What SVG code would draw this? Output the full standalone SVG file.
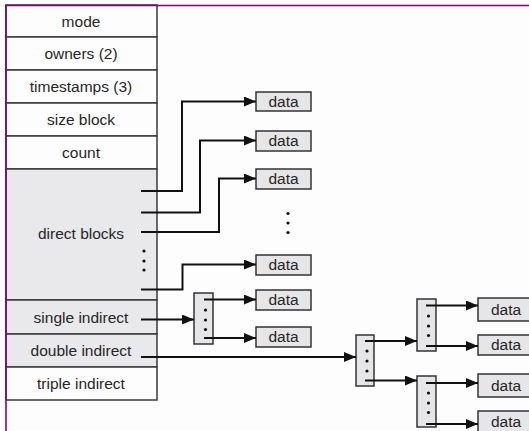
<svg xmlns="http://www.w3.org/2000/svg" width="529" height="431" viewBox="0 0 529 431">
<defs>
<style>
.cell{stroke:#3a3a3a;stroke-width:1.5}
.w{fill:#fdfdfd}
.g{fill:#e9e8ea}
.t{font-family:"Liberation Sans",Arial,sans-serif;font-size:15.5px;fill:#262626;text-anchor:middle}
.box{fill:#e6e5e7;stroke:#333;stroke-width:1.5}
.ln{fill:none;stroke:#111;stroke-width:2;marker-end:url(#ah)}
.dot{fill:#111}
</style>
<marker id="ah" markerUnits="userSpaceOnUse" markerWidth="12" markerHeight="10" refX="12" refY="5" orient="auto">
<path d="M0,0 L12,5 L0,10 Z" fill="#111"/>
</marker>
</defs>
<rect x="0" y="0" width="529" height="431" fill="#fcfdfc"/>

<g id="inode">
<rect class="cell w" x="6" y="5" width="151" height="32"/>
<text class="t" x="81" y="26.5">mode</text>
<rect class="cell w" x="6" y="37" width="151" height="33"/>
<text class="t" x="81" y="59">owners (2)</text>
<rect class="cell w" x="6" y="70" width="151" height="33"/>
<text class="t" x="81" y="92">timestamps (3)</text>
<rect class="cell w" x="6" y="103" width="151" height="33"/>
<text class="t" x="81" y="125">size block</text>
<rect class="cell w" x="6" y="136" width="151" height="33"/>
<text class="t" x="81" y="158">count</text>
<rect class="cell g" x="6" y="169" width="151" height="131"/>
<text class="t" x="81" y="239">direct blocks</text>
<circle class="dot" cx="144" cy="251" r="1.6"/>
<circle class="dot" cx="144" cy="261" r="1.6"/>
<circle class="dot" cx="144" cy="270" r="1.6"/>
<rect class="cell g" x="6" y="300" width="151" height="34"/>
<text class="t" x="81" y="323">single indirect</text>
<rect class="cell g" x="6" y="334" width="151" height="33"/>
<text class="t" x="81" y="356">double indirect</text>
<rect class="cell w" x="6" y="367" width="151" height="33"/>
<text class="t" x="81" y="389">triple indirect</text>
</g>

<g id="data1"><rect class="box" x="256" y="92" width="55" height="19"/><text class="t" x="283.5" y="107">data</text></g>
<g id="data2"><rect class="box" x="256" y="131" width="55" height="20"/><text class="t" x="283.5" y="146">data</text></g>
<g id="data3"><rect class="box" x="256" y="169" width="55" height="20"/><text class="t" x="283.5" y="184">data</text></g>
<g id="dots-direct">
<circle class="dot" cx="288" cy="213.5" r="1.6"/>
<circle class="dot" cx="288" cy="223" r="1.6"/>
<circle class="dot" cx="288" cy="232.5" r="1.6"/>
</g>
<g id="data4"><rect class="box" x="256" y="255" width="55" height="20"/><text class="t" x="283.5" y="270">data</text></g>
<g id="data5"><rect class="box" x="256" y="290" width="55" height="20"/><text class="t" x="283.5" y="305">data</text></g>
<g id="data6"><rect class="box" x="256" y="327" width="55" height="20"/><text class="t" x="283.5" y="342">data</text></g>

<g id="single-block">
<rect class="box" x="194" y="293" width="19" height="51"/>
<circle class="dot" cx="205.5" cy="310" r="1.6"/>
<circle class="dot" cx="205.5" cy="320" r="1.6"/>
<circle class="dot" cx="205.5" cy="329.5" r="1.6"/>
</g>
<g id="double-block">
<rect class="box" x="356" y="335" width="18" height="51"/>
<circle class="dot" cx="367" cy="351" r="1.6"/>
<circle class="dot" cx="367" cy="361" r="1.6"/>
<circle class="dot" cx="367" cy="371" r="1.6"/>
</g>
<g id="ind-block-a">
<rect class="box" x="417" y="299" width="19" height="52"/>
<circle class="dot" cx="428.5" cy="316" r="1.6"/>
<circle class="dot" cx="428.5" cy="326" r="1.6"/>
<circle class="dot" cx="428.5" cy="335.5" r="1.6"/>
</g>
<g id="ind-block-b">
<rect class="box" x="417" y="376" width="19" height="51"/>
<circle class="dot" cx="428.5" cy="393" r="1.6"/>
<circle class="dot" cx="428.5" cy="403" r="1.6"/>
<circle class="dot" cx="428.5" cy="412.5" r="1.6"/>
</g>
<g id="data7"><rect class="box" x="478" y="298" width="60" height="23"/><text class="t" x="506" y="315">data</text></g>
<g id="data8"><rect class="box" x="478" y="335" width="60" height="20"/><text class="t" x="506" y="350">data</text></g>
<g id="data9"><rect class="box" x="478" y="374" width="60" height="23"/><text class="t" x="506" y="391">data</text></g>
<g id="data10"><rect class="box" x="478" y="411" width="60" height="25"/><text class="t" x="506" y="427">data</text></g>

<g id="connectors">
<path class="ln" d="M141,191 H182 V101.5 H256"/>
<path class="ln" d="M141,212.5 H200 V140.5 H256"/>
<path class="ln" d="M141,232 H219 V178.5 H256"/>
<path class="ln" d="M141,289.5 H182.5 V264.5 H256"/>
<path class="ln" d="M141,319.5 H194"/>
<path class="ln" d="M204,299.5 H256"/>
<path class="ln" d="M204,338 H256"/>
<path class="ln" d="M141,357 H356"/>
<path class="ln" d="M365,341 H417"/>
<path class="ln" d="M365,380.5 H417"/>
<path class="ln" d="M426,305.5 H478"/>
<path class="ln" d="M426,346 H478"/>
<path class="ln" d="M426,383 H478"/>
<path class="ln" d="M426,424 H478"/>
</g>

<g id="frame">
<line x1="5" y1="5.5" x2="529" y2="5.5" stroke="#800080" stroke-width="1.6"/>
<line x1="6" y1="5" x2="6" y2="431" stroke="#800080" stroke-width="1.6"/>
</g>
</svg>
